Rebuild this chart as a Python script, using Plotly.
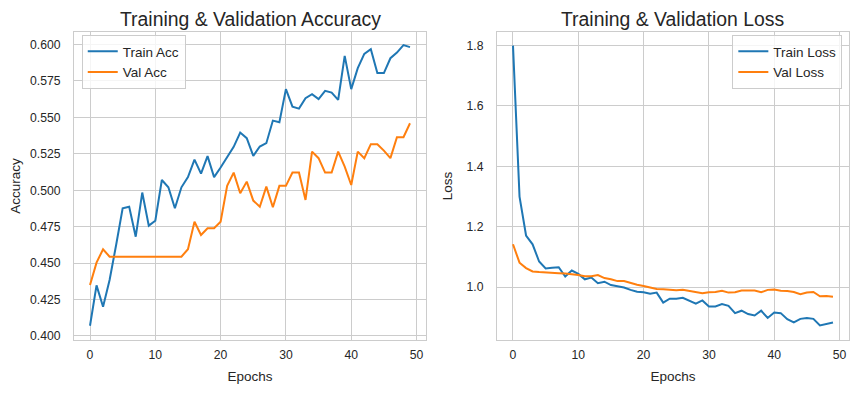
import plotly.graph_objects as go
from plotly.subplots import make_subplots

epochs = list(range(50))

train_acc = [0.407, 0.4347, 0.420, 0.4384, 0.4624, 0.4876, 0.4887, 0.4681, 0.4984, 0.4757,
             0.4791, 0.507, 0.502, 0.4876, 0.502, 0.509, 0.521, 0.5114, 0.5234, 0.509,
             0.5156, 0.5229, 0.5298, 0.5396, 0.5357, 0.5236, 0.530, 0.5323, 0.5478, 0.5467,
             0.5694, 0.5574, 0.556, 0.5632, 0.5659, 0.5625, 0.5682, 0.567, 0.562, 0.5922,
             0.5694, 0.5838, 0.5936, 0.5968, 0.5804, 0.5804, 0.5906, 0.5945, 0.5996, 0.5982]

val_acc = [0.435, 0.4503, 0.4595, 0.4544, 0.4544, 0.4544, 0.4544, 0.4544, 0.4544, 0.4544,
           0.4544, 0.4544, 0.4544, 0.4544, 0.4544, 0.4595, 0.4784, 0.4693, 0.4739, 0.4739,
           0.4784, 0.503, 0.5121, 0.4979, 0.5059, 0.4929, 0.4887, 0.5025, 0.4883, 0.503,
           0.503, 0.5121, 0.5121, 0.4933, 0.5265, 0.522, 0.5121, 0.5121, 0.5265, 0.5162,
           0.5036, 0.5265, 0.522, 0.5316, 0.5316, 0.5272, 0.522, 0.5364, 0.5364, 0.546]

train_loss = [1.800, 1.300, 1.171, 1.142, 1.085, 1.062, 1.064, 1.066, 1.035, 1.055,
              1.044, 1.026, 1.032, 1.013, 1.018, 1.007, 1.003, 0.999, 0.991, 0.985,
              0.983, 0.978, 0.982, 0.949, 0.962, 0.962, 0.965, 0.955, 0.945, 0.956,
              0.936, 0.936, 0.944, 0.938, 0.914, 0.922, 0.911, 0.906, 0.922, 0.898,
              0.916, 0.914, 0.894, 0.883, 0.895, 0.898, 0.895, 0.873, 0.878, 0.883]

val_loss = [1.142, 1.081, 1.063, 1.052, 1.050, 1.048, 1.048, 1.046, 1.045, 1.043,
            1.040, 1.036, 1.036, 1.040, 1.030, 1.026, 1.020, 1.020, 1.013, 1.008,
            1.004, 0.998, 0.994, 0.993, 0.991, 0.990, 0.991, 0.988, 0.983, 0.980,
            0.983, 0.984, 0.988, 0.982, 0.983, 0.989, 0.989, 0.989, 0.983, 0.991,
            0.992, 0.988, 0.987, 0.984, 0.977, 0.982, 0.984, 0.970, 0.971, 0.968]

acc_ticks = [0.400, 0.425, 0.450, 0.475, 0.500, 0.525, 0.550, 0.575, 0.600]
loss_ticks = [1.0, 1.2, 1.4, 1.6, 1.8]
epoch_ticks = [0, 10, 20, 30, 40, 50]

BLUE = "#1f77b4"
ORANGE = "#ff7f0e"
GRID = "#cccccc"
TXT = "#262626"
FONT = "Liberation Sans, Arial, sans-serif"
TICK = 12.2
LAB = 13.5

fig = make_subplots(rows=1, cols=2, horizontal_spacing=0.0916,
                    subplot_titles=("Training & Validation Accuracy", "Training & Validation Loss"))

fig.add_trace(go.Scatter(x=epochs, y=train_acc, mode="lines", name="Train Acc",
                         line=dict(color=BLUE, width=2), legend="legend"), row=1, col=1)
fig.add_trace(go.Scatter(x=epochs, y=val_acc, mode="lines", name="Val Acc",
                         line=dict(color=ORANGE, width=2), legend="legend"), row=1, col=1)
fig.add_trace(go.Scatter(x=epochs, y=train_loss, mode="lines", name="Train Loss",
                         line=dict(color=BLUE, width=2), legend="legend2"), row=1, col=2)
fig.add_trace(go.Scatter(x=epochs, y=val_loss, mode="lines", name="Val Loss",
                         line=dict(color=ORANGE, width=2), legend="legend2"), row=1, col=2)

axis_common = dict(showgrid=True, gridcolor=GRID, gridwidth=1, showline=True, mirror=True,
                   linecolor=GRID, linewidth=1, zeroline=False, ticks="", automargin=False,
                   tickfont=dict(size=TICK, color=TXT, family=FONT))

fig.update_xaxes(range=[-2.45, 51.45], tickvals=epoch_ticks, ticklabelstandoff=3,
                 title=dict(text="Epochs", font=dict(size=LAB, color=TXT, family=FONT), standoff=10),
                 **axis_common)
fig.update_yaxes(range=[0.3972, 0.6086], tickvals=acc_ticks, tickformat=".3f", ticklabelstandoff=10,
                 title=dict(text="Accuracy", font=dict(size=LAB, color=TXT, family=FONT), standoff=10),
                 row=1, col=1, **axis_common)
fig.update_yaxes(range=[0.825, 1.845], tickvals=loss_ticks, tickformat=".1f", ticklabelstandoff=10,
                 title=dict(text="Loss", font=dict(size=LAB, color=TXT, family=FONT), standoff=10),
                 row=1, col=2, **axis_common)

for ann in fig.layout.annotations:
    ann.font = dict(size=19.4, color=TXT, family=FONT)
    ann.yshift = 0

legend_common = dict(bgcolor="rgba(255,255,255,0.8)", bordercolor=GRID, borderwidth=1,
                     font=dict(size=LAB, color=TXT, family=FONT), yanchor="top")

fig.update_layout(
    template="none",
    width=843, height=377,
    margin=dict(l=66, r=2, t=24, b=45, autoexpand=False),
    paper_bgcolor="white", plot_bgcolor="white",
    font=dict(family=FONT, color=TXT),
    legend=dict(x=0.01, y=0.99, xanchor="left", **legend_common),
    legend2=dict(x=0.9914, y=0.99, xanchor="right", **legend_common),
)

fig.write_html("out.html")
